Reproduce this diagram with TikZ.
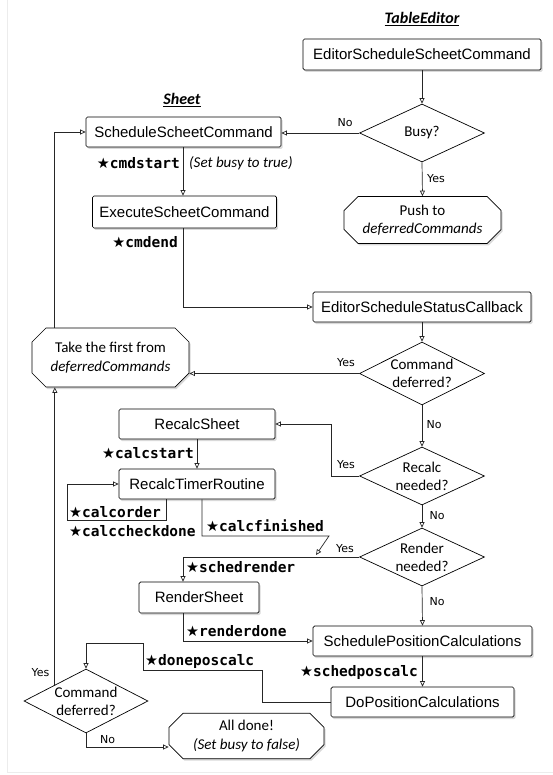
\documentclass[tikz,border=0pt]{standalone}
\usepackage{fontspec}
\setmainfont{Liberation Sans}
\newfontfamily\calfont{Carlito}
\newfontfamily\mymono{DejaVu Sans Mono}
\newfontfamily\dvsans{DejaVu Sans}
\usetikzlibrary{arrows.meta,shapes.geometric,shapes.misc,shadows,calc}
\newcommand{\mystar}{{\dvsans ★}}
\begin{document}
\begin{tikzpicture}[x=1pt,y=-1pt,
  every node/.style={inner sep=0pt},
  shad/.style={drop shadow={shadow xshift=1.5pt, shadow yshift=-2pt, opacity=0.3}},
  box/.style={draw=black, line width=0.7pt, fill=white, rounded corners=1.5pt, font=\fontsize{15}{18}\selectfont, shad},
  oct/.style={chamfered rectangle, chamfered rectangle xsep=7pt, chamfered rectangle ysep=7pt, draw=black, line width=0.7pt, fill=white, font=\calfont\fontsize{15}{18.5}\selectfont, align=center, shad},
  dia/.style={diamond, draw=black, line width=0.7pt, fill=white, minimum width=125pt, minimum height=58pt},
  dtext/.style={font=\calfont\fontsize{15}{18}\selectfont, align=center},
  yn/.style={font=\dvsans\fontsize{11}{13}\selectfont},
  ev/.style={font=\mymono\bfseries\fontsize{14.5}{17}\selectfont},
  note/.style={font=\calfont\itshape\fontsize{15}{18}\selectfont},
  flow/.style={draw=black!85, line width=0.7pt, -{Triangle[open,length=5.5pt,width=5pt]}},
  ttl/.style={font=\calfont\bfseries\itshape\fontsize{16}{19}\selectfont}
]
\useasboundingbox (0,0) rectangle (553,775);
\draw[gray!15, line width=1pt] (7,0) -- (7,772) -- (553,772);

% titles
\node[ttl] (tE) at (422,19) {\underline{TableEditor}};
\node[ttl] (tS) at (182,100) {\underline{Sheet}};

% nodes
\node[box, minimum width=238pt, minimum height=31pt] (essc) at (422,54.5) {EditorScheduleScheetCommand};
\node[dia] (busy) at (422,133) {};
\node[dtext] (busyT) at (busy) {Busy?};
\node[box, minimum width=195pt, minimum height=30pt] (ssc) at (183.5,132) {ScheduleScheetCommand};
\node[box, minimum width=184pt, minimum height=32pt] (esc) at (184.5,212) {ExecuteScheetCommand};
\node[oct, minimum width=157pt, minimum height=47pt] (push) at (422.5,220) {Push to\\\itshape deferredCommands};
\node[box, minimum width=218pt, minimum height=30pt] (esscb) at (422,307) {EditorScheduleStatusCallback};
\node[dia, minimum height=63pt] (cd1) at (422,373.5) {};
\node[dtext] (cd1T) at (cd1) {Command\\deferred?};
\node[oct, minimum width=157pt, minimum height=59pt] (take) at (110.5,357.5) {Take the first from\\\itshape deferredCommands};
\node[box, minimum width=156pt, minimum height=30pt] (rs) at (197,424) {RecalcSheet};
\node[dia] (rn) at (422,476) {};
\node[dtext] (rnT) at (rn) {Recalc\\needed?};
\node[box, minimum width=156pt, minimum height=30pt] (rtr) at (197,484) {RecalcTimerRoutine};
\node[dia] (ren) at (422,557) {};
\node[dtext] (renT) at (ren) {Render\\needed?};
\node[box, minimum width=120pt, minimum height=31pt] (render) at (199,597.5) {RenderSheet};
\node[box, minimum width=219pt, minimum height=30pt] (spc) at (422.5,641) {SchedulePositionCalculations};
\node[box, minimum width=183pt, minimum height=30pt] (dpc) at (422.5,702) {DoPositionCalculations};
\node[dia, minimum width=124pt, minimum height=64pt] (cd2) at (86,701) {};
\node[dtext] (cd2T) at (cd2) {Command\\deferred?};
\node[oct, minimum width=155pt, minimum height=44pt] (done) at (246.5,736) {All done!\\\itshape (Set busy to false)};

% helper coordinates
\coordinate (rx) at (183,0);
\coordinate (lx) at ($(cd2.west)!0.5!(cd2.north)$);
\coordinate (ry) at (331,424);
\coordinate (lpx) at (166,0);
\coordinate (lp) at (67,520);
\coordinate (cfx) at (202,0);
\coordinate (cf1) at (329,536);
\coordinate (cf2) at (316,555);
\coordinate (d1) at (262,670);
\coordinate (d2) at (143,643);

% connectors
\draw[flow] (essc.south) -- (busy.north);
\draw[flow] (busy.west) -- (busy.west -| ssc.east);
\draw[flow] (busy.south) -- (push.north);
\draw[flow] (ssc.south -| rx) -- (esc.north -| rx);
\draw[flow] (esc.south -| rx) |- (esscb.west);
\draw[flow] (esscb.south) -- (cd1.north);
\draw[flow] (cd1.west) -- (cd1.west -| take.east);
\draw[flow] (take.north -| lx) |- (ssc.west);
\draw[flow] (cd1.south) -- (rn.north);
\draw[flow] (rn.west) -| (ry) -- (ry -| rs.east);
\draw[flow] (rs.south) -- (rtr.north);
\draw[flow] (rtr.south -| lpx) |- (lp) |- (rtr.west);
\draw[flow] (rtr.south -| cfx) |- (cf1) -- (cf2);
\draw[flow] (rn.south) -- (ren.north);
\draw[flow] (ren.west) -| (render.north -| rx);
\draw[flow] (ren.south) -- (spc.north);
\draw[flow] (render.south -| rx) |- (spc.west);
\draw[flow] (spc.south) -- (dpc.north);
\draw[flow] (dpc.west) -| (d1) -| (d2) -| (cd2.north);
\draw[flow] (lx) -- (lx |- take.south);
\draw[flow] (cd2.south) |- ([yshift=-11pt]done.west);

% labels
\node[yn] (l1) at (345,123) {No};
\node[yn] (l2) at (436,179) {Yes};
\node[ev, anchor=east] (e1) at (180,163) {\mystar cmdstart};
\node[note, anchor=west] (n1) at (189,163) {(Set busy to true)};
\node[ev, anchor=east] (e2) at (178,242) {\mystar cmdend};
\node[yn] (l3) at (346,363) {Yes};
\node[yn] (l4) at (434,425) {No};
\node[yn] (l5) at (346,465) {Yes};
\node[ev, anchor=east] (e3) at (194,453) {\mystar calcstart};
\node[ev, anchor=west] (e4) at (69,512) {\mystar calcorder};
\node[ev, anchor=west] (e5) at (69,531) {\mystar calccheckdone};
\node[ev, anchor=west] (e6) at (206,526) {\mystar calcfinished};
\node[yn] (l6) at (437,516) {No};
\node[yn] (l7) at (345,549) {Yes};
\node[ev, anchor=west] (e7) at (186,567) {\mystar schedrender};
\node[yn] (l8) at (437,602) {No};
\node[ev, anchor=west] (e8) at (186,631) {\mystar renderdone};
\node[ev, anchor=east] (e9) at (418,672) {\mystar schedposcalc};
\node[ev, anchor=west] (e10) at (145,661) {\mystar doneposcalc};
\node[yn] (l9) at (40.5,673) {Yes};
\node[yn] (l10) at (107.5,740) {No};
\end{tikzpicture}
\end{document}
